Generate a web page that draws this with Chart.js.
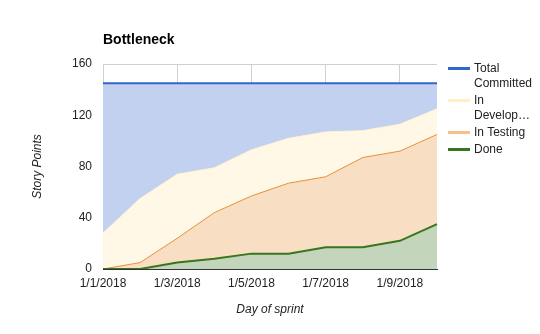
<!DOCTYPE html>
<html>
<head>
<meta charset="utf-8">
<title>Bottleneck</title>
<script src="https://cdn.jsdelivr.net/npm/chart.js@4/dist/chart.umd.min.js"></script>
<style>
  html, body { margin: 0; padding: 0; background: #fff; }
  #wrap { position: relative; width: 540px; height: 334px; font-family: Arial, "Liberation Sans", sans-serif; }
  #chart { position: absolute; left: 0; top: 0; }
  #title { position: absolute; left: 103px; top: 31px; font-size: 14px; font-weight: bold; color: #000; }
  #legend { position: absolute; left: 448px; top: 61px; font-size: 12px; color: #222; }
  .lg-item { position: relative; padding-left: 26px; line-height: 15px; margin-bottom: 2px; }
  .lg-item span.sw { position: absolute; left: 0; top: 6px; width: 22px; height: 3px; }
</style>
</head>
<body>
<div id="wrap">
  <canvas id="chart" width="540" height="334"></canvas>
  <div id="title">Bottleneck</div>
  <div id="legend"></div>
</div>
<script>
// ── Data ──────────────────────────────────────────────────
const days = ['1/1/2018', '1/2/2018', '1/3/2018', '1/4/2018', '1/5/2018',
              '1/6/2018', '1/7/2018', '1/8/2018', '1/9/2018', '1/10/2018'];
// story points in each column, stacked bottom-up
const done        = [0, 0, 5, 8, 12, 12, 17, 17, 22, 35];
const inTesting   = [0, 5, 19, 36, 45, 55, 55, 70, 70, 70];
const inDevelop   = [28, 50, 50, 35, 36, 35, 35, 21, 21, 20];
const committed   = [117, 90, 71, 66, 52, 43, 38, 37, 32, 20];
const yTicks      = [0, 40, 80, 120, 160];

// ── Series styling ────────────────────────────────────────
const series = [
  { label: 'Done',            data: done,      line: '#38761d', area: '#c3d6bb', width: 2 },
  { label: 'In Testing',      data: inTesting, line: '#e69138', area: '#f8dec3', width: 1 },
  { label: 'In Development',  data: inDevelop, line: '#fff2cc', area: '#fff8e6', width: 1 },
  { label: 'Total Committed', data: committed, line: '#3366cc', area: '#c2d1f0', width: 2 }
];

const datasets = series.map((s, i) => ({
  label: s.label,
  data: s.data,
  borderColor: s.line,
  backgroundColor: s.area,
  borderWidth: s.width,
  pointRadius: 0,
  tension: 0,
  fill: i === 0 ? 'origin' : '-1'
}));

// ── Chart ─────────────────────────────────────────────────
new Chart(document.getElementById('chart'), {
  type: 'line',
  data: { labels: days, datasets },
  options: {
    responsive: false,
    animation: false,
    layout: { padding: { top: 64, right: 103, left: 0, bottom: 0 } },
    plugins: { legend: { display: false }, tooltip: { enabled: false } },
    scales: {
      x: {
        stacked: true,
        afterFit: s => { s.height = 65; },
        afterBuildTicks: s => { s.ticks = s.ticks.filter((t, i) => i % 2 === 0); },
        grid: { color: '#d0d0d0', drawTicks: false },
        border: { display: true, color: '#333', width: 1 },
        ticks: {
          autoSkip: false, maxRotation: 0, padding: 7,
          color: '#222', font: { family: 'Arial', size: 12 }
        },
        title: {
          display: true, text: 'Day of sprint', color: '#222',
          font: { family: 'Arial', size: 12, style: 'italic' },
          padding: { top: 0, bottom: 17 }
        }
      },
      y: {
        stacked: true,
        min: 0, max: 160,
        afterFit: s => { s.width = 103; },
        afterBuildTicks: s => { s.ticks = yTicks.map(v => ({ value: v })); },
        grid: { color: '#d0d0d0', drawTicks: false },
        border: { display: false },
        ticks: {
          padding: 11, color: '#222', font: { family: 'Arial', size: 12 }
        },
        title: {
          display: true, text: 'Story Points', color: '#222',
          font: { family: 'Arial', size: 12, style: 'italic' },
          padding: { top: 30, bottom: 0 }
        }
      }
    }
  }
});

// ── Legend ────────────────────────────────────────────────
const legendItems = [
  { text: 'Total<br>Committed', color: '#3366cc' },
  { text: 'In<br>Develop…',     color: '#fdf0c4' },
  { text: 'In Testing',         color: '#f6c08c' },
  { text: 'Done',               color: '#38761d' }
];
document.getElementById('legend').innerHTML = legendItems.map(l =>
  `<div class="lg-item"><span class="sw" style="background:${l.color}"></span>${l.text}</div>`
).join('');
</script>
</body>
</html>
